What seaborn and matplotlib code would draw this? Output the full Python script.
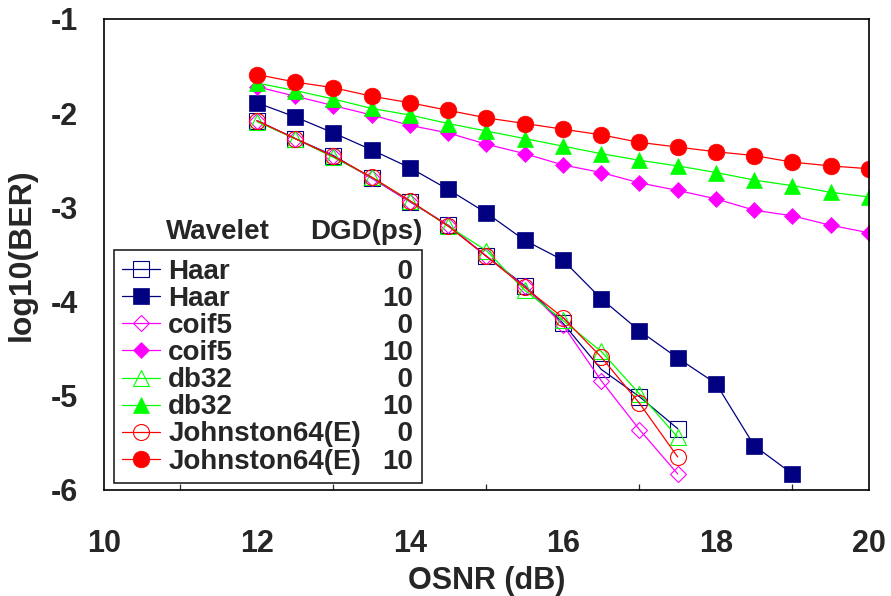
import matplotlib
matplotlib.use("Agg")
import matplotlib.pyplot as plt
from matplotlib.lines import Line2D
from matplotlib.ticker import MultipleLocator
import seaborn as sns
import pandas as pd

# ---------------- data ----------------
osnr_full = [12, 12.5, 13, 13.5, 14, 14.5, 15, 15.5, 16, 16.5, 17, 17.5, 18, 18.5, 19, 19.5, 20]
osnr_haar10 = [12, 12.5, 13, 13.5, 14, 14.5, 15, 15.5, 16, 16.5, 17, 17.5, 18, 18.5, 19]
osnr_short = [12, 12.5, 13, 13.5, 14, 14.5, 15, 15.5, 16, 16.5, 17, 17.5]

haar_0 = [-2.08, -2.27, -2.45, -2.69, -2.94, -3.19, -3.52, -3.83, -4.23, -4.72, -5.01, -5.35]
haar_10 = [-1.89, -2.04, -2.21, -2.39, -2.58, -2.81, -3.06, -3.35, -3.56, -3.97, -4.31, -4.60, -4.87, -5.53, -5.83]
coif5_0 = [-2.08, -2.27, -2.46, -2.69, -2.94, -3.19, -3.52, -3.84, -4.25, -4.84, -5.36, -5.83]
coif5_10 = [-1.72, -1.82, -1.92, -2.02, -2.13, -2.21, -2.33, -2.43, -2.55, -2.63, -2.74, -2.82, -2.91, -3.03, -3.09, -3.19, -3.27]
db32_0 = [-2.09, -2.27, -2.47, -2.68, -2.93, -3.20, -3.46, -3.88, -4.20, -4.53, -4.98, -5.44]
db32_10 = [-1.68, -1.76, -1.85, -1.95, -2.02, -2.11, -2.19, -2.27, -2.35, -2.43, -2.50, -2.56, -2.63, -2.71, -2.77, -2.84, -2.89]
john_0 = [-2.08, -2.27, -2.46, -2.68, -2.93, -3.20, -3.52, -3.85, -4.17, -4.59, -5.08, -5.65]
john_10 = [-1.59, -1.67, -1.73, -1.82, -1.89, -1.97, -2.05, -2.11, -2.17, -2.23, -2.31, -2.36, -2.41, -2.45, -2.52, -2.56, -2.59]

wavelet_names = ["Haar", "Haar", "coif5", "coif5", "db32", "db32", "Johnston64(E)", "Johnston64(E)"]
dgd_labels = ["0", "10", "0", "10", "0", "10", "0", "10"]
x_ticks = [10, 12, 14, 16, 18, 20]
y_ticks = [-1, -2, -3, -4, -5, -6]

series = [
    (osnr_short, haar_0, "#000080", "s", False, 11),
    (osnr_haar10, haar_10, "#000080", "s", True, 11.5),
    (osnr_short, coif5_0, "#FF00FF", "D", False, 8.2),
    (osnr_full, coif5_10, "#FF00FF", "D", True, 8.2),
    (osnr_short, db32_0, "#00FF00", "^", False, 12),
    (osnr_full, db32_10, "#00FF00", "^", True, 12),
    (osnr_short, john_0, "#FF0000", "o", False, 11.5),
    (osnr_full, john_10, "#FF0000", "o", True, 12),
]

# ---------------- style ----------------
sns.set_style("white")
plt.rcParams["font.family"] = ["Liberation Sans", "DejaVu Sans"]
plt.rcParams["font.weight"] = "bold"

fig = plt.figure(figsize=(8.91, 5.96), dpi=100)
ax = fig.add_axes([0.1167, 0.1779, 0.8586, 0.7903])

handles = []
for (xs, ys, col, mk, filled, ms), name in zip(series, wavelet_names):
    df = pd.DataFrame({"x": xs, "y": ys})
    sns.lineplot(data=df, x="x", y="y", ax=ax, color=col, marker=mk,
                 markersize=ms, markerfacecolor=col if filled else "none",
                 markeredgecolor=col, markeredgewidth=0.8 if not filled else 0.5,
                 linewidth=0.9, sort=False, legend=False)
    handles.append(ax.lines[-1])

ax.set_xlim(10, 20)
ax.set_ylim(-6, -1)
ax.xaxis.set_major_locator(MultipleLocator(2))
ax.xaxis.set_minor_locator(MultipleLocator(1))
ax.set_xticks(x_ticks)
ax.set_yticks(y_ticks)
ax.set_yticklabels([str(v) for v in y_ticks])
ax.tick_params(axis="both", which="major", direction="in", length=6.5, width=0.9,
               labelsize=22, top=False, right=False, color="black")
ax.tick_params(axis="x", which="major", pad=28)
ax.tick_params(axis="y", which="major", pad=19)
ax.tick_params(axis="x", which="minor", direction="in", length=4.3, width=0.9,
               bottom=True, top=False)
for lab in ax.get_xticklabels() + ax.get_yticklabels():
    lab.set_fontweight("bold")
for sp in ax.spines.values():
    sp.set_color("black")
    sp.set_linewidth(1.2)

ax.set_xlabel("OSNR (dB)", fontsize=22, fontweight="bold", labelpad=5)
ax.set_ylabel("log10(BER)", fontsize=23, fontweight="bold", labelpad=10)

# legend: names column + DGD column
blank = [Line2D([], [], color="none", marker=None) for _ in dgd_labels]
dgd_padded = [("  " + d) if len(d) == 1 else d for d in dgd_labels]
leg = ax.legend(handles + blank, wavelet_names + dgd_padded, ncol=2,
                loc="lower left", bbox_to_anchor=(0.013, 0.015), borderaxespad=0,
                prop={"family": "Liberation Sans", "weight": "bold", "size": 20},
                frameon=True, fancybox=False, framealpha=1, edgecolor="#222222",
                handlelength=1.36, handletextpad=0.3, borderpad=0.3,
                labelspacing=0.04, columnspacing=-0.9, markerscale=1.0)
leg.get_frame().set_linewidth(1.2)

ax.text(0.081, 0.548, "Wavelet", transform=ax.transAxes, fontsize=20,
        fontweight="bold", ha="left", va="center")
ax.text(0.416, 0.548, "DGD(ps)", transform=ax.transAxes, fontsize=20,
        fontweight="bold", ha="right", va="center")

fig.savefig("out.png", dpi=100)
